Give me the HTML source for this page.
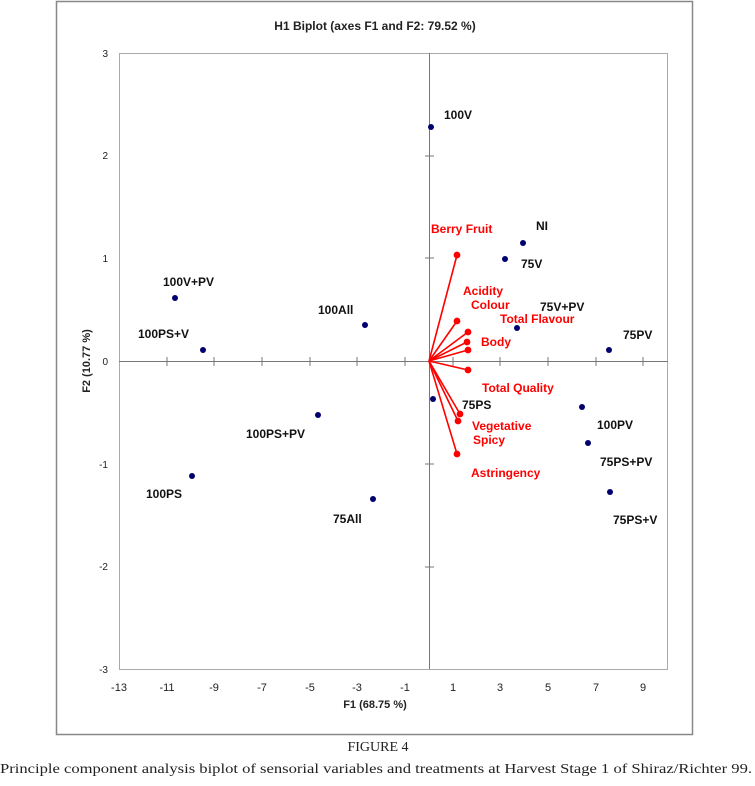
<!DOCTYPE html>
<html><head><style>
body{margin:0;background:#fff;width:755px;height:781px;overflow:hidden}
</style></head><body>
<svg width="755" height="781" xmlns="http://www.w3.org/2000/svg" font-family="Liberation Sans, sans-serif">
<rect x="56.5" y="1.5" width="636" height="733" fill="#fff" stroke="#888" stroke-width="1.5"/>
<rect x="119.5" y="53.5" width="548" height="616" fill="#fff" stroke="#aaa" stroke-width="1"/>
<text x="375" y="30" font-size="12" text-anchor="middle" font-weight="bold" fill="#222">H1  Biplot (axes F1 and F2: 79.52 %)</text>
<line x1="119" y1="361.5" x2="668" y2="361.5" stroke="#777"/>
<line x1="429.5" y1="53" x2="429.5" y2="669" stroke="#777"/>
<g stroke="#777">
<line x1="167" y1="357" x2="167" y2="366"/><line x1="214" y1="357" x2="214" y2="366"/><line x1="262" y1="357" x2="262" y2="366"/><line x1="310" y1="357" x2="310" y2="366"/><line x1="357" y1="357" x2="357" y2="366"/><line x1="405" y1="357" x2="405" y2="366"/>
<line x1="453" y1="357" x2="453" y2="366"/><line x1="500" y1="357" x2="500" y2="366"/><line x1="548" y1="357" x2="548" y2="366"/><line x1="596" y1="357" x2="596" y2="366"/><line x1="643" y1="357" x2="643" y2="366"/>
<line x1="425" y1="156" x2="434" y2="156"/><line x1="425" y1="258" x2="434" y2="258"/><line x1="425" y1="464" x2="434" y2="464"/><line x1="425" y1="567" x2="434" y2="567"/>
</g>
<g font-size="11" fill="#222" text-anchor="middle">
<text x="119" y="691">-13</text><text x="167" y="691">-11</text><text x="214" y="691">-9</text><text x="262" y="691">-7</text><text x="310" y="691">-5</text><text x="357" y="691">-3</text><text x="405" y="691">-1</text><text x="453" y="691">1</text><text x="500" y="691">3</text><text x="548" y="691">5</text><text x="596" y="691">7</text><text x="643" y="691">9</text>
</g>
<g font-size="10" fill="#222" text-anchor="end">
<text x="108" y="57">3</text><text x="108" y="159">2</text><text x="108" y="262">1</text><text x="108" y="365">0</text><text x="108" y="468">-1</text><text x="108" y="570">-2</text><text x="108" y="673">-3</text>
</g>
<text x="375" y="708" font-size="11" font-weight="bold" text-anchor="middle" fill="#222">F1 (68.75 %)</text>
<text transform="translate(90,361) rotate(-90)" font-size="11" font-weight="bold" text-anchor="middle" fill="#222">F2 (10.77 %)</text>
<g stroke="#f00" stroke-width="1.6" fill="#f00">
<line x1="429" y1="361" x2="457" y2="255"/><circle cx="457" cy="255" r="2.6"/>
<line x1="429" y1="361" x2="457" y2="321"/><circle cx="457" cy="321" r="2.6"/>
<line x1="429" y1="361" x2="468" y2="332"/><circle cx="468" cy="332" r="2.6"/>
<line x1="429" y1="361" x2="467" y2="342"/><circle cx="467" cy="342" r="2.6"/>
<line x1="429" y1="361" x2="468" y2="350"/><circle cx="468" cy="350" r="2.6"/>
<line x1="429" y1="361" x2="468" y2="370"/><circle cx="468" cy="370" r="2.6"/>
<line x1="429" y1="361" x2="460" y2="414"/><circle cx="460" cy="414" r="2.6"/>
<line x1="429" y1="361" x2="458" y2="421"/><circle cx="458" cy="421" r="2.6"/>
<line x1="429" y1="361" x2="457" y2="454"/><circle cx="457" cy="454" r="2.6"/>
</g>
<g font-size="12" font-weight="bold" fill="#f00">
<text x="431" y="233">Berry Fruit</text><text x="463" y="295">Acidity</text><text x="471" y="309">Colour</text><text x="500" y="323">Total Flavour</text><text x="481" y="346">Body</text><text x="482" y="392">Total Quality</text><text x="472" y="430">Vegetative</text><text x="473" y="444">Spicy</text><text x="471" y="477">Astringency</text>
</g>
<g fill="#00006e">
<circle cx="431" cy="127" r="3"/><circle cx="523" cy="243" r="3"/><circle cx="505" cy="259" r="3"/><circle cx="175" cy="298" r="3"/><circle cx="365" cy="325" r="3"/><circle cx="203" cy="350" r="3"/><circle cx="517" cy="328" r="3"/><circle cx="609" cy="350" r="3"/><circle cx="433" cy="399" r="3"/><circle cx="318" cy="415" r="3"/><circle cx="582" cy="407" r="3"/><circle cx="588" cy="443" r="3"/><circle cx="192" cy="476" r="3"/><circle cx="373" cy="499" r="3"/><circle cx="610" cy="492" r="3"/>
</g>
<g font-size="12" font-weight="bold" fill="#111">
<text x="444" y="119">100V</text><text x="536" y="230">NI</text><text x="521" y="268">75V</text><text x="163" y="286">100V+PV</text><text x="318" y="314">100All</text><text x="138" y="338">100PS+V</text><text x="540" y="311">75V+PV</text><text x="623" y="339">75PV</text><text x="462" y="409">75PS</text><text x="246" y="438">100PS+PV</text><text x="597" y="429">100PV</text><text x="600" y="466">75PS+PV</text><text x="146" y="498">100PS</text><text x="333" y="523">75All</text><text x="613" y="524">75PS+V</text>
</g>
<text x="378" y="751" font-family="Liberation Serif, serif" font-size="14" text-anchor="middle" fill="#222">FIGURE 4</text>
<text x="376" y="773" font-family="Liberation Serif, serif" font-size="14" text-anchor="middle" fill="#222" textLength="752" lengthAdjust="spacingAndGlyphs">Principle component analysis biplot of sensorial variables and treatments at Harvest Stage 1 of Shiraz/Richter 99.</text>
</svg>
</body></html>
